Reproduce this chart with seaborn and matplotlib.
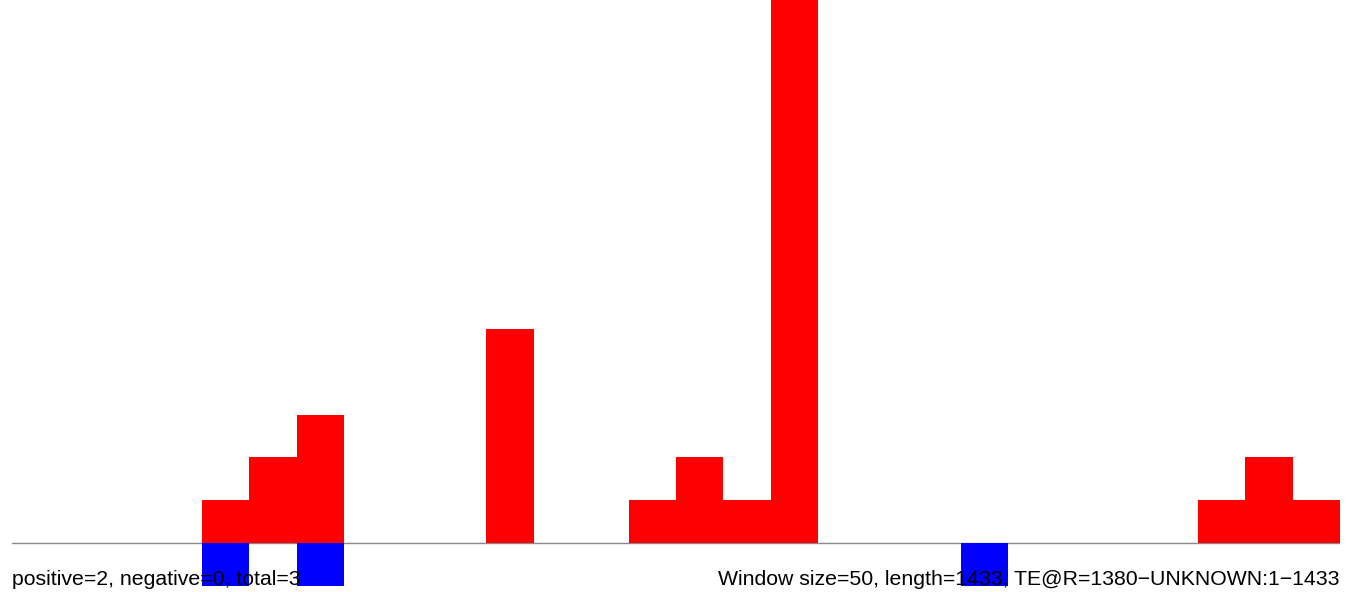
import numpy as np
import pandas as pd
from matplotlib import pyplot as plt
import seaborn as sns

# read counts per 50 bp window (28 windows along the TE)
window = list(range(28))
plus_counts = [0, 0, 0, 0, 1, 2, 3, 0, 0, 0, 5, 0, 0, 1, 2, 1, 13, 0, 0, 0, 0, 0, 0, 0, 0, 1, 2, 1]
minus_counts = [0, 0, 0, 0, 1, 0, 1, 0, 0, 0, 0, 0, 0, 0, 0, 0, 0, 0, 0, 0, 1, 0, 0, 0, 0, 0, 0, 0]
left_label = 'positive=2, negative=0, total=3'
right_label = 'Window size=50, length=1433, TE@R=1380\u2212UNKNOWN:1\u22121433'

sns.set_style('white')
plt.rcParams['font.family'] = ['Liberation Sans', 'DejaVu Sans']

df = pd.concat([
    pd.DataFrame({'window': window, 'count': plus_counts, 'strand': 'plus'}),
    pd.DataFrame({'window': window, 'count': [-c for c in minus_counts], 'strand': 'minus'}),
])

fig = plt.figure(figsize=(13.52, 5.92), dpi=100)
ax = fig.add_axes([12 / 1352, 0, 1328 / 1352, 1])
sns.barplot(data=df, x='window', y='count', hue='strand', dodge=False, width=1,
            palette={'plus': '#ff0000', 'minus': '#0000ff'}, saturation=1,
            errorbar=None, linewidth=0, edgecolor='none', legend=False, ax=ax, zorder=2)
ax.axhline(0, color='#888888', lw=1, zorder=1)
ax.set_xlim(-0.5, 27.5)
ax.set_ylim(-49 / 42.8, 543 / 42.8)
ax.axis('off')

# labels sit on top of the bars
ax.text(12 / 1352, 7 / 592, left_label, transform=fig.transFigure, ha='left', va='baseline',
        fontsize=15.3, color='black', zorder=10, clip_on=False)
ax.text(1340 / 1352, 7 / 592, right_label, transform=fig.transFigure, ha='right', va='baseline',
        fontsize=15.3, color='black', zorder=10, clip_on=False)

fig.savefig('out.png', dpi=100)
